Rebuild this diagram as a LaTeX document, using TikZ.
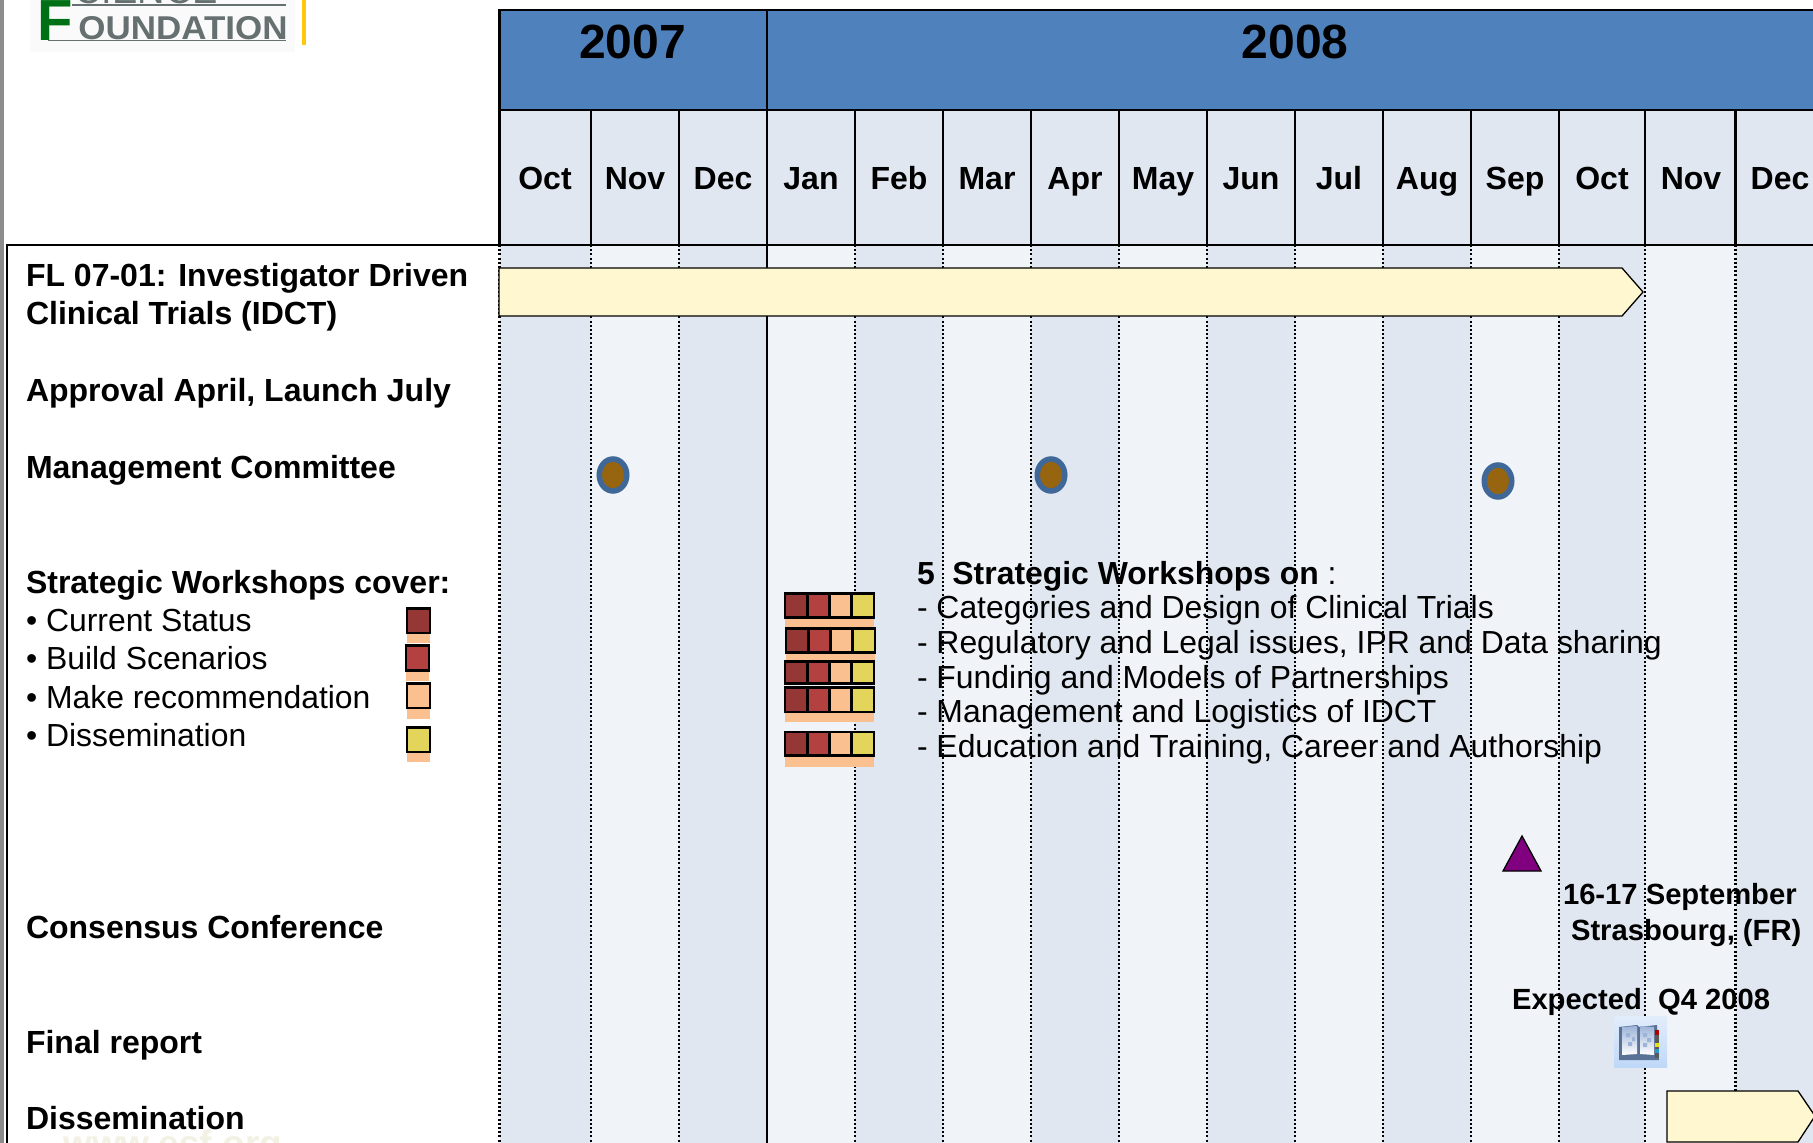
\documentclass[tikz,border=0pt]{standalone}
\usepackage{fontspec}
\usetikzlibrary{shapes.geometric}
\setmainfont{Liberation Sans}
\definecolor{band}{HTML}{4F81BD}
\definecolor{coldark}{HTML}{E0E7F0}
\definecolor{collight}{HTML}{F0F4F8}
\definecolor{arrowfill}{HTML}{FFF7CF}
\definecolor{sqa}{HTML}{953735}
\definecolor{sqb}{HTML}{B2413F}
\definecolor{sqc}{HTML}{FBC08F}
\definecolor{sqd}{HTML}{E3D55C}
\definecolor{logogray}{HTML}{667070}
\definecolor{logogreen}{HTML}{007016}
\definecolor{dotfill}{HTML}{97650F}
\definecolor{dotedge}{HTML}{3F6797}
\definecolor{purplefill}{HTML}{800080}
\definecolor{wmark}{HTML}{F2F1E4}
\definecolor{logoyellow}{HTML}{FFC80A}
\definecolor{edgegray}{HTML}{8C8C8C}
\definecolor{icontop}{HTML}{E2EDFB}
\definecolor{iconbot}{HTML}{BFD8F8}
\definecolor{bookedge}{HTML}{5A7196}
\definecolor{booklight}{HTML}{9DB4D8}
\newcommand{\fs}[1]{\fontsize{#1}{#1}\selectfont}
\tikzset{
  x=0.5pt,y=-0.5pt,
  lab/.style={anchor=base west,inner sep=0pt,outer sep=0pt,font=\fs{16}\bfseries,text=black},
  item/.style={anchor=base west,inner sep=0pt,outer sep=0pt,font=\fs{15.95},text=black},
  ws/.style={anchor=base west,inner sep=0pt,outer sep=0pt,font=\fs{15.95},text=black},
  note/.style={anchor=base west,inner sep=0pt,outer sep=0pt,font=\fs{14.6}\bfseries,text=black},
  year/.style={anchor=center,inner sep=0pt,font=\fs{24}\bfseries,text=black},
  month/.style={anchor=base,inner sep=0pt,font=\fs{16}\bfseries,text=black},
  solidln/.style={draw=black,line width=1.05pt},
  dotln/.style={draw=black,line width=1.2pt,dash pattern=on 1.05pt off 1.05pt},
  sq/.style={draw=black,line width=1.25pt},
  strip/.style={fill=sqc,draw=none},
  bararrow/.style={fill=arrowfill,draw=black,line width=0.65pt},
  dot/.style={fill=dotfill,draw=dotedge,line width=2.75pt,ellipse,minimum width=13.75pt,minimum height=16pt,inner sep=0pt},
}
\newcommand{\wsrow}[4]{%
  \fill[strip] (#1,#3) rectangle (#1+89,#4);
  \filldraw[sq,fill=sqa] (#1,#2) rectangle (#1+22.3,#3);
  \filldraw[sq,fill=sqb] (#1+22.3,#2) rectangle (#1+44.6,#3);
  \filldraw[sq,fill=sqc] (#1+44.6,#2) rectangle (#1+66.6,#3);
  \filldraw[sq,fill=sqd] (#1+66.6,#2) rectangle (#1+89,#3);
}
\newcommand{\legrow}[5]{%
  \fill[strip] (#1,#3) rectangle (#1+23,#4);
  \filldraw[sq,fill=#5] (#1,#2) rectangle (#1+23,#3);
}
\begin{document}
\begin{tikzpicture}
\useasboundingbox (0,0) rectangle (1813,1143);
\begin{scope}
\clip (0,0) rectangle (1813,1143);
\fill[white] (0,0) rectangle (1813,1143);
% left grey edge
\fill[edgegray] (0,0) rectangle (4,1143);
% logo
\fill[black!2] (30,0) rectangle (295,52);
\node[inner sep=0pt,anchor=base west,font=\fs{29}\bfseries,text=logogreen] (logoF) at (37,41) {F};
\node[inner sep=0pt,anchor=base west,font=\fs{16.5}\bfseries,text=logogray,xscale=1.06] (logoT) at (78,40) {OUNDATION};
\node[inner sep=0pt,anchor=base west,font=\fs{19},text=logogray] (logoS) at (74,4) {CIENCE};
\fill[logogray] (48,40) rectangle (286,41.5);
\fill[logogray] (72,4.5) rectangle (286,6);
\fill[logoyellow] (302,0) rectangle (306,45);
% column backgrounds
\foreach \xa/\xb/\c in {499.5/590.7/coldark,590.7/679/collight,679/767/coldark,767/855/collight,855/943/coldark,943/1031/collight,1031/1119/coldark,1119/1207/collight,1207/1295/coldark,1295/1383/collight,1383/1471/coldark,1471/1559/collight,1559/1645/coldark,1645/1735.5/collight,1735.5/1815/coldark}{
  \fill[\c] (\xa,245) rectangle (\xb,1143);
}
% header
\fill[coldark] (499.5,110) rectangle (1815,245);
\fill[band] (499.5,10) rectangle (1815,110);
% dotted grid
\foreach \xa in {499.5,590.7,679,855,943,1031,1119,1207,1295,1383,1471,1559,1645,1735.5}{
  \draw[dotln] (\xa,245) -- (\xa,1143);
}
\draw[solidln] (767,245) -- (767,1143);
% header lines
\foreach \xa in {590.7,679,767,855,943,1031,1119,1207,1295,1383,1471,1559,1645,1735.5}{
  \draw[solidln] (\xa,110) -- (\xa,245);
}
\draw[solidln] (767,10) -- (767,110);
\draw[solidln] (499.5,245) -- (499.5,10) -- (1815,10);
\draw[solidln] (499.5,110) -- (1815,110);
\draw[solidln] (7,1143) -- (7,245) -- (1815,245);
% years
\node[year] (y2007) at (632.5,42) {2007};
\node[year] (y2008) at (1295,42) {2008};
% months
\foreach \n/\m/\xa in {m1/Oct/545,m2/Nov/635,m3/Dec/723,m4/Jan/811,m5/Feb/899,m6/Mar/987,m7/Apr/1075,m8/May/1163,m9/Jun/1251,m10/Jul/1339,m11/Aug/1427,m12/Sep/1515,m13/Oct/1602,m14/Nov/1691,m15/Dec/1780}{
  \node[month] (\n) at (\xa,190) {\m};
}
% main bars
\filldraw[bararrow] (499,268) -- (1622,268) -- (1643,292) -- (1622,316) -- (499,316) -- cycle;
\filldraw[bararrow] (1667,1091) -- (1798,1091) -- (1815,1116) -- (1798,1142) -- (1667,1142) -- cycle;
% left labels
\node[lab] (l1) at (26,287) {FL 07-01: Investigator Driven};
\node[lab] (l2) at (26,325) {Clinical Trials (IDCT)};
\node[lab] (l3) at (26,402) {Approval April, Launch July};
\node[lab] (l4) at (26,479) {Management Committee};
\node[lab] (l5) at (26,594) {Strategic Workshops cover:};
\node[item] (i1) at (26,632) {• Current Status};
\node[item] (i2) at (26,669) {• Build Scenarios};
\node[item] (i3) at (26,708) {• Make recommendation};
\node[item] (i4) at (26,746) {• Dissemination};
\node[lab] (l6) at (26,938) {Consensus Conference};
\node[lab] (l7) at (26,1053) {Final report};
\node[lab] (l8) at (26,1129) {Dissemination};
\node[inner sep=0pt,anchor=base west,font=\fs{18.5}\bfseries,text=wmark] (wm) at (63,1156) {www.esf.org};
% legend squares
\legrow{407}{608.3}{633}{643}{sqa}
\legrow{406}{645.7}{670.3}{681}{sqb}
\legrow{407}{683.3}{708}{719}{sqc}
\legrow{407}{727.7}{752}{762}{sqd}
% workshop squares
\wsrow{785}{593.3}{617.7}{627.3}
\wsrow{786}{628.3}{652.7}{662}
\wsrow{785}{661.7}{683.7}{683.7}
\wsrow{785}{687.3}{712}{722}
\wsrow{785}{732}{755.7}{767}
% circles
\node[dot] (c1) at (613,475) {};
\node[dot] (c2) at (1051,475) {};
\node[dot] (c3) at (1498,481) {};
% workshop text
\node[ws] (w0) at (917,584.5) {\textbf{5\ \ Strategic Workshops on} :};
\node[ws] (w1) at (917,618) {- Categories and Design of Clinical Trials};
\node[ws] (w2) at (917,653.5) {- Regulatory and Legal issues, IPR and Data sharing};
\node[ws] (w3) at (917,688) {- Funding and Models of Partnerships};
\node[ws] (w4) at (917,722) {- Management and Logistics of IDCT};
\node[ws] (w5) at (917,757) {- Education and Training, Career and Authorship};
% triangle
\filldraw[fill=purplefill,draw=black,line width=0.65pt] (1522,836) -- (1541,871) -- (1503,871) -- cycle;
\node[note] (n1) at (1563,904.5) {16-17 September};
\node[note] (n2) at (1571,940) {Strasbourg, (FR)};
\node[note] (n3) at (1512,1009) {Expected\ \ Q4 2008};
% book icon
\shade[top color=icontop,bottom color=iconbot] (1614,1016) rectangle (1667,1067);
\fill[bookedge] (1619,1027) -- (1637,1025) -- (1639,1027) -- (1657,1025) -- (1659,1060) -- (1619,1060) -- cycle;
\shade[top color=booklight,bottom color=white] (1622,1027) -- (1637,1026) -- (1637,1054) -- (1622,1055) -- cycle;
\shade[top color=booklight,bottom color=white] (1640,1026) -- (1654,1027) -- (1654,1055) -- (1640,1054) -- cycle;
\fill[booklight] (1626,1033) rectangle (1630,1037) (1632,1037) rectangle (1635,1041) (1643,1033) rectangle (1647,1037) (1647,1038) rectangle (1651,1042) (1628,1042) rectangle (1632,1046) (1643,1043) rectangle (1647,1047);
\fill[black!65] (1655,1030) rectangle (1659,1058);
\fill[red!70!black] (1655,1030) rectangle (1659,1035);
\fill[yellow!90!black] (1655,1043) rectangle (1659,1047);
\fill[cyan!80!black] (1655,1049) rectangle (1659,1053);
\end{scope}
\end{tikzpicture}
\end{document}
